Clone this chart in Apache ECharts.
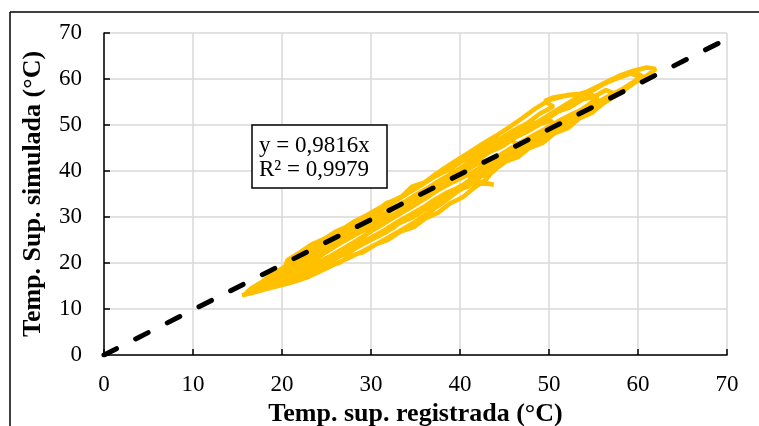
<!DOCTYPE html>
<html>
<head>
<meta charset="utf-8">
<script src="https://cdn.jsdelivr.net/npm/echarts@6/dist/echarts.min.js"></script>
<style>
  * { margin: 0; padding: 0; }
  #container { width: 759px; height: 426px; background: #fff; }
</style>
</head>
<body>
<div id="container"></div>
<script>
// measured (x) vs simulated (y) surface temperature, traced loop by loop
var regX = [
  15.5,16.5,18,19.5,21,22.5,24,25.5,27,28.5,30,31.5,33,34.5,36,37.5,39,40.5,42,43.5,45,46.5,48,49.5,51,52.5,54,55.5,57,58.5,60,61.2,62,61,59.5,58,56.5,55,53.5,52,50.5,49.5,50.5,49,47.5,46,44.5,43,41.5,40,38.5,37,35.5,34,32.5,31,29.5,28,26.5,25,23.5,22,20.5,19,17.5,16.5,16,
  17,18.5,20,21.5,23,24.5,26,27.5,29,30.5,32,33.5,35,36.5,38,39.5,41,42.5,44,45.5,46.5,45.8,44.5,43,41.8,40.5,39,37.5,36,34.5,33,31.5,30,28.5,27,25.5,24,22.5,21,19.5,18.5,
  19,20.5,22,23.5,25,26.5,28,29.5,31,32.5,34,35.5,37,38.5,40,41.5,43,43.8,42,41,42.5,44,45.5,47,48.5,50,51.5,53,54.5,55.5,54.5,53,51.5,50,48.5,47,45.5,44,42.5,41,39.5,38,36.5,35,33.5,32,30.5,29,27.5,26,24.5,23,21.5,20,18.5,17.5,
  18,19.5,21,22.5,24,25.5,27,28.5,30,31.5,33,34.5,36,37.5,39,40.5,42,43.5,45,46.5,48,49.5,51,52.5,54,55.5,57,58.5,59.5,60.5,59.8,58.5,57,55.5,54,52.5,51,49.5,48,46.5,45,43.5,42,40.5,39,37.5,36,34.5,33,31.5,30,28.5,27,25.5,24,22.5,21,19.5,18,16.5,15.8,
  16.8,18.2,19.8,21.3,22.7,24.4,25.8,27.3,28.9,30.2,31.8,33.1,34.7,36.2,37.6,39.3,40.7,42.2,43.8,45.1,46.7,48.2,49.6,50.8,50.2,49.1,47.6,46.2,44.9,43.3,41.9,40.3,38.8,37.3,35.9,34.3,32.8,31.2,29.8,28.2,26.7,25.1,23.6,22.2,20.6,19.1,17.7,
  20.3,21.8,23.2,24.9,26.3,27.8,29.2,30.8,32.2,33.7,35.3,36.8,38.2,39.8,41.3,42.8,44.2,45.8,47.2,48.8,50.2,51.8,53.3,54.7,56.2,57.8,59.2,60.3,59.2,57.6,56.1,54.6,53.1,51.6,50.1,48.6,47.1,45.6,44.1,42.6,41.1,39.6,38.1,36.6,35.1,33.6,32.1,30.6,29.1,27.6,26.1,24.6,23.1,21.6,20.1,
  21.2,22.4,23.9,25.1,26.8,27.9,29.6,30.9,32.5,33.6,35.2,36.4,38.1,39.2,40.9,42.1,43.7,44.8,46.5,47.7,49.3,50.6,52.1,53.4,54.8,56.1,57.3,56.4,55,53.8,52.3,51.2,49.7,48.4,46.9,45.7,44.2,42.9,41.5,40.1,38.8,37.3,36,34.6,33.2,31.7,30.4,28.9,27.6,26.1,24.8,23.3,22,20.6,
  19.6,20.9,22.3,23.6,25,26.4,27.7,29.1,30.6,31.9,33.3,34.8,36.1,37.5,38.9,40.3,41.7,43,43.9,43.2,41.9,40.4,39,37.6,36.2,34.7,33.4,31.9,30.5,29,27.6,26.2,24.7,23.3,21.9,20.4,19,17.8
];
var simY = [
  13,13.4,14.2,15,16.1,17.3,18.8,20.4,22,23.6,25.3,27.1,29,30.6,32.3,34,35.6,37.2,39.3,41,42.6,44.4,46.1,47.8,49.6,51.2,52.9,54.6,56.4,58,59.6,61,62.2,62.5,61.8,60.8,59.3,57.6,56.8,56.5,56,55.2,54,52.5,50.3,48.8,47,45.4,43.6,41.9,40.1,38.6,36.7,35,33.6,32,30.4,28.9,27,25.2,23.3,21.3,19.4,17.6,15.6,14.4,13.6,
  13.8,14.5,15.2,16,17,18.4,19.8,21.1,22.5,24,25.6,27.3,29,31,33,35.2,37.4,39.5,41.8,44,45.8,46.6,46,44.4,42.5,40.6,38.5,36.4,34.5,32.8,31,29.4,27.9,26.4,24.8,23,21.2,19.3,17.6,16.4,15.6,
  15.4,16.8,18.1,19.4,20.6,21.8,23.4,25,26.6,28.2,29.8,31.6,33.6,35.3,36.5,37.2,37.3,37,37.8,38.6,40.2,41.9,43.6,45.4,47.2,49,50.8,52.6,54.5,56,56.8,56.7,56.2,55.4,53.6,51.5,49.5,47.6,45.9,44,42.2,40.3,38.2,36.2,34.4,32.5,30.8,29,27.4,25.6,23.9,22.1,20.2,18.4,16.8,15.2,
  14.9,16,17.4,18.6,20.1,21.6,23.3,25,26.9,28.6,30.4,32.1,33.9,35.8,37.4,38.8,40.4,42.3,44.1,45.9,47.5,49.1,50.8,52.3,53.6,55,56.6,58.1,59.4,60.5,61.4,60.9,59.9,58.4,57,55.2,53.4,51.6,49.8,48,46.3,44.7,43,41.2,39.3,37.6,35.8,34,32.3,30.4,28.6,26.8,25.3,23.6,21.8,20,18.5,17,15.6,14,13.2,
  14.1,14.9,16.2,17,18.3,19.5,21,22.1,23.9,25.2,26.8,28.6,29.9,31.8,33.2,35.1,36.6,38.7,40.1,42,43.8,45.7,47.4,49.6,50.9,50.3,48.6,47.3,45.5,44.1,42.2,40.9,39,37.5,35.3,33.8,31.9,30.5,28.4,27.1,25,23.4,21.6,20.4,18.6,17.3,15.5,
  16.6,17.7,19.2,20.3,22,23.1,24.8,26.2,28,29.3,31.1,32.6,34.5,35.9,37.8,39.4,41.2,42.8,44.6,46.2,48.1,49.7,51.4,53,54.8,56.7,58.6,60.3,61.2,60.1,58.9,57.4,55.9,54.1,52.3,50.4,48.9,47.1,45.4,43.5,41.9,40,38.4,36.6,34.9,33.1,31.4,29.6,27.9,26.1,24.5,22.6,21,19.1,17.8,
  16.9,18.4,19.3,21,21.9,23.7,24.6,26.5,27.6,29.4,30.5,32.4,33.5,35.5,36.6,38.6,39.8,41.8,43,44.9,46.1,48.2,49.3,51.4,52.6,54.7,56.9,57.6,56.1,55.6,53.8,53.1,51.2,50.4,48.5,47.6,45.7,44.9,43,42.1,40.2,39.4,37.5,36.6,34,33,31,29.8,28.2,26.9,25.3,24,22.3,20.6,
  15.3,15.9,17.2,17.8,19.3,20,21.6,22.3,24.1,25,26.8,27.8,29.7,30.9,33,34.3,36.5,38.3,40.6,42.4,41.5,39.9,38.9,37,36,33.9,33,30.9,30,28,27.1,25,24.1,22,21.1,19,17.9,16
];
// linear trend y = 0,9816x
var trendX = [0, 70];
var trendY = [0, 68.71];
var axisTicks = [0, 10, 20, 30, 40, 50, 60, 70];

var chart = echarts.init(document.getElementById('container'));

var simData = [];
for (var i = 0; i < regX.length; i++) {
  simData.push([regX[i], simY[i]]);
}
var trendData = [];
for (var j = 0; j < trendX.length; j++) {
  trendData.push([trendX[j], trendY[j]]);
}

var font = 'Liberation Serif';

option = {
  animation: false,
  grid: { left: 104, right: 32, top: 33, bottom: 71, containLabel: false, outerBoundsMode: 'none' },
  xAxis: {
    type: 'value',
    min: axisTicks[0], max: axisTicks[axisTicks.length - 1], interval: 10,
    name: 'Temp. sup. registrada (°C)',
    nameLocation: 'middle',
    nameGap: 42,
    nameTextStyle: { fontFamily: font, fontWeight: 'bold', fontSize: 26, color: '#000' },
    axisLine: { lineStyle: { color: '#000', width: 1.5 } },
    axisTick: { inside: true, length: 6, lineStyle: { color: '#000', width: 1.5 } },
    axisLabel: { fontFamily: font, fontSize: 23, color: '#000', margin: 18 },
    splitLine: { show: true, lineStyle: { color: '#d9d9d9', width: 1.5 } }
  },
  yAxis: {
    type: 'value',
    min: axisTicks[0], max: axisTicks[axisTicks.length - 1], interval: 10,
    name: 'Temp. Sup. simulada (°C)',
    nameLocation: 'middle',
    nameGap: 58,
    nameTextStyle: { fontFamily: font, fontWeight: 'bold', fontSize: 26, color: '#000' },
    axisLine: { show: true, lineStyle: { color: '#000', width: 1.5 } },
    axisTick: { show: true, inside: true, length: 6, lineStyle: { color: '#000', width: 1.5 } },
    axisLabel: { fontFamily: font, fontSize: 23, color: '#000', margin: 22 },
    splitLine: { show: true, lineStyle: { color: '#d9d9d9', width: 1.5 } }
  },
  graphic: [
    { type: 'line', shape: { x1: 10, y1: 12, x2: 759, y2: 12 }, style: { stroke: '#000', lineWidth: 1.5 } },
    { type: 'line', shape: { x1: 10, y1: 12, x2: 10, y2: 426 }, style: { stroke: '#000', lineWidth: 1.5 } },
    { type: 'rect', z: 100, shape: { x: 252, y: 125, width: 135, height: 63 },
      style: { fill: '#fff', stroke: '#000', lineWidth: 1.5 } },
    { type: 'text', z: 101, x: 259, y: 134,
      style: { text: 'y = 0,9816x\nR² = 0,9979', fontFamily: font, fontSize: 23, lineHeight: 24, fill: '#000' } }
  ],
  series: [
    {
      type: 'line',
      data: simData,
      showSymbol: false,
      lineStyle: { color: '#FFC000', width: 4.5 },
      z: 2
    },
    {
      type: 'line',
      data: trendData,
      showSymbol: false,
      lineStyle: { color: '#000', width: 5, type: [14, 21.5], cap: 'round' },
      z: 3
    }
  ]
};
chart.setOption(option);
</script>
</body>
</html>
